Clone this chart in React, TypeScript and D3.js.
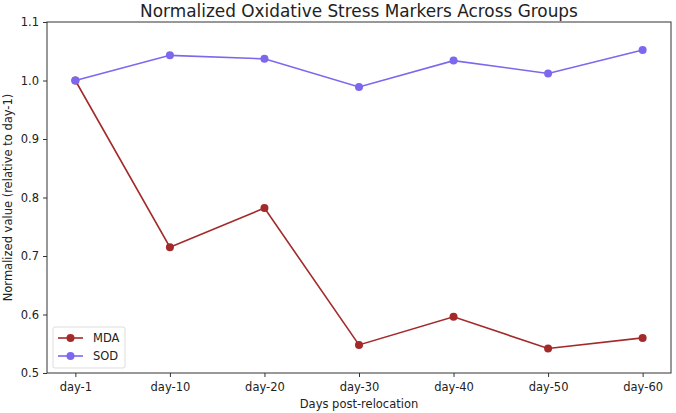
import React, { useEffect, useRef } from 'react';
import * as d3 from 'd3';

const days = ['day-1', 'day-10', 'day-20', 'day-30', 'day-40', 'day-50', 'day-60'];
const mda = [1.0, 0.715, 0.782, 0.548, 0.596, 0.542, 0.56];
const sod = [1.0, 1.043, 1.037, 0.989, 1.034, 1.012, 1.052];
const yTicks = [0.5, 0.6, 0.7, 0.8, 0.9, 1.0, 1.1];

const series = [
  { name: 'MDA', values: mda, color: '#a32a2a' },
  { name: 'SOD', values: sod, color: '#7b68ee' },
];

const W = 676;
const H = 413;
const margin = { top: 22, right: 5, bottom: 40, left: 47 };

const App = () => {
  const ref = useRef<SVGSVGElement>(null);

  useEffect(() => {
    const svg = d3.select(ref.current);
    svg.selectAll('*').remove();

    const iw = W - margin.left - margin.right;
    const ih = H - margin.top - margin.bottom;

    // matplotlib-style 5% padding on the category axis
    const x = d3.scaleLinear().domain([-0.3, days.length - 1 + 0.3]).range([0, iw]);
    const y = d3.scaleLinear().domain([0.5, 1.1]).range([ih, 0]);

    const g = svg.append('g').attr('transform', `translate(${margin.left},${margin.top})`);

    const xAxis = g
      .append('g')
      .attr('transform', `translate(0,${ih})`)
      .call(
        d3
          .axisBottom(x)
          .tickValues(days.map((_, i) => i))
          .tickFormat((d) => days[d as number])
          .tickSize(4)
          .tickPadding(6)
      );
    const yAxis = g.append('g').call(
      d3
        .axisLeft(y)
        .tickValues(yTicks)
        .tickFormat(d3.format('.1f'))
        .tickSize(4)
        .tickPadding(4)
    );
    [xAxis, yAxis].forEach((a) => {
      a.select('.domain').remove();
      a.selectAll('text').attr('font-size', 11.5).attr('fill', '#222').attr('font-family', 'DejaVu Sans');
      a.selectAll('line').attr('stroke', '#333');
    });

    g.append('rect')
      .attr('width', iw)
      .attr('height', ih)
      .attr('fill', 'none')
      .attr('stroke', '#333')
      .attr('stroke-width', 1);

    const line = d3
      .line<number>()
      .x((_, i) => x(i))
      .y((d) => y(d));

    series.forEach((s) => {
      g.append('path')
        .datum(s.values)
        .attr('d', line)
        .attr('fill', 'none')
        .attr('stroke', s.color)
        .attr('stroke-width', 1.6);
      g.selectAll(null)
        .data(s.values)
        .enter()
        .append('circle')
        .attr('cx', (_, i) => x(i))
        .attr('cy', (d) => y(d))
        .attr('r', 4)
        .attr('fill', s.color);
    });

    // legend
    const lg = g.append('g').attr('transform', `translate(6,${ih - 46})`);
    lg.append('rect')
      .attr('width', 72)
      .attr('height', 41)
      .attr('rx', 2)
      .attr('fill', 'white')
      .attr('fill-opacity', 0.8)
      .attr('stroke', '#ddd');
    series.forEach((s, i) => {
      const row = lg.append('g').attr('transform', `translate(0,${11 + i * 18})`);
      row.append('line').attr('x1', 5).attr('x2', 30).attr('stroke', s.color).attr('stroke-width', 1.6);
      row.append('circle').attr('cx', 17.5).attr('r', 4).attr('fill', s.color);
      row
        .append('text')
        .attr('x', 40)
        .attr('dy', '0.35em')
        .attr('font-size', 11.5)
        .attr('font-family', 'DejaVu Sans')
        .attr('fill', '#222')
        .text(s.name);
    });

    svg
      .append('text')
      .attr('x', margin.left + iw / 2)
      .attr('y', 17)
      .attr('text-anchor', 'middle')
      .attr('font-size', 16.9)
      .attr('font-family', 'DejaVu Sans')
      .attr('fill', '#222')
      .text('Normalized Oxidative Stress Markers Across Groups');

    svg
      .append('text')
      .attr('x', margin.left + iw / 2)
      .attr('y', 408)
      .attr('text-anchor', 'middle')
      .attr('font-size', 11.5)
      .attr('font-family', 'DejaVu Sans')
      .attr('fill', '#222')
      .text('Days post-relocation');

    svg
      .append('text')
      .attr('transform', `translate(12,${margin.top + ih / 2}) rotate(-90)`)
      .attr('text-anchor', 'middle')
      .attr('font-size', 11.5)
      .attr('font-family', 'DejaVu Sans')
      .attr('fill', '#222')
      .text('Normalized value (relative to day-1)');
  }, []);

  return (
    <svg
      ref={ref}
      width={W}
      height={H}
      style={{ position: 'absolute', left: 0, top: 0, background: 'white' }}
    />
  );
};

export default App;
